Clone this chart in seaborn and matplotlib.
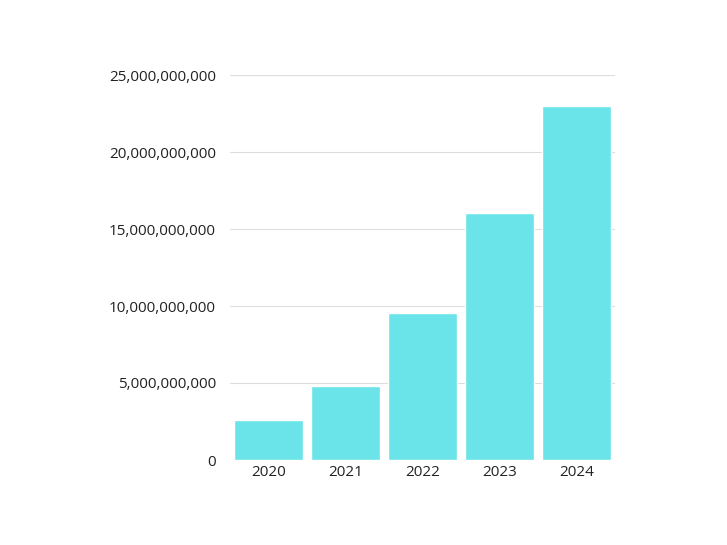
import matplotlib
matplotlib.use("Agg")
import matplotlib.pyplot as plt
import seaborn as sns
import pandas as pd
from matplotlib.ticker import FuncFormatter, MultipleLocator

years = ["2020", "2021", "2022", "2023", "2024"]
values = [2.6e9, 4.8e9, 9.55e9, 16.05e9, 23.0e9]

df = pd.DataFrame({"year": years, "value": values})

sns.set_style("white")
plt.rcParams["font.family"] = ["Open Sans", "DejaVu Sans"]

fig = plt.figure(figsize=(7.27, 5.45), dpi=100)
ax = fig.add_axes([230 / 727, 85 / 545, 385 / 727, 385 / 545])

sns.barplot(data=df, x="year", y="value", color="#6ae4e8", width=0.9,
            saturation=1, ax=ax, zorder=3)

ax.set_ylim(0, 25e9)
ax.set_xlim(-0.5, 4.5)
ax.yaxis.set_major_locator(MultipleLocator(5e9))
ax.yaxis.set_major_formatter(FuncFormatter(lambda v, p: f"{int(v):,}"))
ax.grid(axis="y", color="#dddddd", linewidth=0.8, zorder=0)
ax.set_xlabel("")
ax.set_ylabel("")
for s in ax.spines.values():
    s.set_visible(False)
ax.tick_params(axis="both", length=0, labelsize=11, colors="#222222")
ax.tick_params(axis="y", pad=10)

fig.savefig("out.png", dpi=100, facecolor="white")
